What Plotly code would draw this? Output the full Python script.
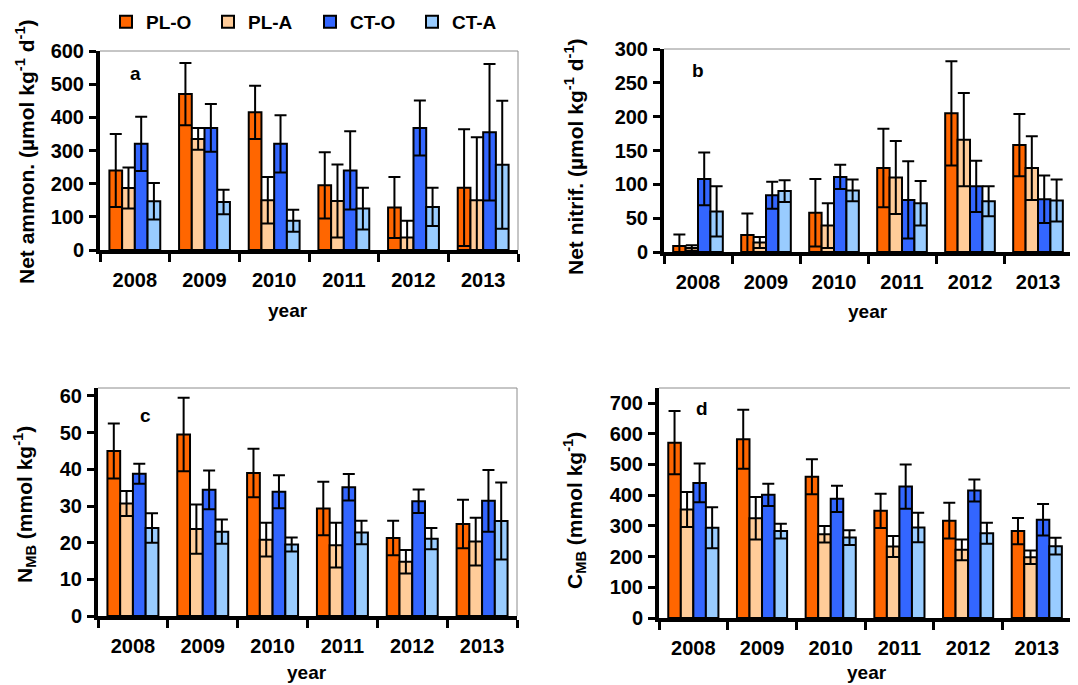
import plotly.graph_objects as go

# page offset of the plot div (default body margin) -> figure is drawn 8px in
OFF = 8
W, H = 1078 - OFF, 685 - OFF

years = ["2008", "2009", "2010", "2011", "2012", "2013"]
series = ["PL-O", "PL-A", "CT-O", "CT-A"]
colors = ["#FF6600", "#FFCC99", "#3366FF", "#99CCFF"]

# Panel a: Net ammonification
a_plo = [240, 470, 415, 195, 128, 188]
a_plo_err = [110, 94, 80, 100, 92, 176]
a_pla = [187, 335, 150, 148, 38, 150]
a_pla_err = [62, 33, 70, 110, 50, 190]
a_cto = [320, 368, 320, 240, 368, 355]
a_cto_err = [82, 72, 86, 118, 83, 206]
a_cta = [147, 145, 88, 125, 130, 257]
a_cta_err = [55, 37, 33, 63, 58, 193]

# Panel b: Net nitrification
b_plo = [9, 25, 58, 124, 205, 158]
b_plo_err = [17, 32, 50, 58, 77, 46]
b_pla = [6, 14, 39, 110, 166, 124]
b_pla_err = [4, 8, 33, 54, 69, 47]
b_cto = [108, 84, 111, 77, 97, 78]
b_cto_err = [39, 20, 18, 57, 38, 35]
b_cta = [60, 90, 91, 72, 75, 76]
b_cta_err = [37, 16, 16, 33, 22, 31]

# Panel c: N_MB
c_plo = [45, 49.5, 39, 29.3, 21.3, 25.1]
c_plo_err = [7.5, 10, 6.6, 7.3, 4.7, 6.6]
c_pla = [30.7, 23.7, 20.8, 19.3, 14.8, 20.3]
c_pla_err = [3.4, 6.7, 4.6, 6.1, 3.2, 6.5]
c_cto = [38.8, 34.4, 33.9, 35.1, 31.3, 31.4]
c_cto_err = [2.7, 5.3, 4.5, 3.6, 3.2, 8.4]
c_cta = [24, 23, 19.5, 22.8, 21.1, 25.9]
c_cta_err = [4, 3.3, 1.9, 3.2, 2.9, 10.5]

# Panel d: C_MB
d_plo = [571, 582, 460, 349, 317, 283]
d_plo_err = [103, 96, 57, 56, 58, 43]
d_pla = [353, 325, 273, 233, 222, 198]
d_pla_err = [57, 69, 27, 34, 34, 22]
d_cto = [440, 401, 388, 428, 415, 320]
d_cto_err = [63, 36, 43, 72, 36, 51]
d_cta = [294, 283, 262, 295, 276, 234]
d_cta_err = [67, 24, 24, 48, 34, 27]

panels = [
    ("x", "y", [a_plo, a_pla, a_cto, a_cta], [a_plo_err, a_pla_err, a_cto_err, a_cta_err], True),
    ("x2", "y2", [b_plo, b_pla, b_cto, b_cta], [b_plo_err, b_pla_err, b_cto_err, b_cta_err], False),
    ("x3", "y3", [c_plo, c_pla, c_cto, c_cta], [c_plo_err, c_pla_err, c_cto_err, c_cta_err], False),
    ("x4", "y4", [d_plo, d_pla, d_cto, d_cta], [d_plo_err, d_pla_err, d_cto_err, d_cta_err], False),
]

FONT = "Arial, Liberation Sans, sans-serif"

fig = go.Figure()
for xa, ya, vals, errs, show in panels:
    for name, col, v, e in zip(series, colors, vals, errs):
        fig.add_trace(go.Bar(
            x=years, y=v, name=name, xaxis=xa, yaxis=ya,
            marker=dict(color=col, line=dict(color="black", width=2)),
            error_y=dict(type="data", array=e, visible=True, color="black",
                         thickness=2, width=6),
            showlegend=show, offsetgroup=name, legendgroup=name,
        ))

def px_x(p):
    # page pixel -> paper fraction
    return (p - OFF) / W

def px_y(p):
    return 1 - (p - OFF) / H

tickfont = dict(family=FONT, size=20, color="black", weight="bold")

def xaxis(domain, rng, anchor):
    return dict(domain=domain, range=rng, anchor=anchor, type="category",
                tickson="boundaries", ticks="outside", ticklen=8, tickwidth=3,
                tickcolor="black", showline=True, linewidth=4, linecolor="black",
                showgrid=False, zeroline=False, tickfont=tickfont,
                ticklabelstandoff=9, automargin=False)

def yaxis(domain, rng, dtick, anchor):
    return dict(domain=domain, range=rng, anchor=anchor, dtick=dtick,
                ticks="outside", ticklen=7, tickwidth=3, tickcolor="black",
                showline=True, linewidth=4, linecolor="black",
                showgrid=False, zeroline=False, tickfont=tickfont,
                ticklabelstandoff=1, automargin=False)

layout = dict(
    width=W, height=H, margin=dict(l=0, r=0, t=0, b=0, pad=0, autoexpand=False),
    paper_bgcolor="white", plot_bgcolor="white",
    barmode="group", bargap=0.27, bargroupgap=0,
    font=dict(family=FONT, color="black"),
    xaxis=xaxis([px_x(100), px_x(518)], [-0.5, 5.5], "y"),
    yaxis=yaxis([px_y(250), px_y(51)], [0, 600], 100, "x"),
    xaxis2=xaxis([px_x(664), 1.0], [-0.5, 5.588], "y2"),
    yaxis2=yaxis([px_y(252), px_y(49)], [0, 300], 50, "x2"),
    xaxis3=xaxis([px_x(98), px_x(517)], [-0.5, 5.5], "y3"),
    yaxis3=yaxis([px_y(616), px_y(388)], [0, 62.18], 10, "x3"),
    xaxis4=xaxis([px_x(659), 1.0], [-0.5, 5.60], "y4"),
    yaxis4=yaxis([px_y(618), px_y(388)], [0, 749], 100, "x4"),
    legend=dict(orientation="h", x=px_x(106), xanchor="left",
                y=px_y(22), yanchor="middle", entrywidth=57,
                entrywidthmode="pixels", traceorder="normal",
                font=dict(family=FONT, size=19, color="black", weight="bold"),
                bgcolor="rgba(0,0,0,0)", borderwidth=0, itemclick=False),
)
fig.update_layout(**layout)

# thin gray frame lines (top / right) like the original
gray = dict(color="#8c8c8c", width=1)
shapes = []
for xr, yr, right in [("x", "y", True), ("x2", "y2", False), ("x3", "y3", True), ("x4", "y4", False)]:
    shapes.append(dict(type="line", xref=f"{xr} domain", yref=f"{yr} domain",
                       x0=0, x1=1, y0=1, y1=1, line=gray))
    if right:
        shapes.append(dict(type="line", xref=f"{xr} domain", yref=f"{yr} domain",
                           x0=1, x1=1, y0=0, y1=1, line=gray))
fig.update_layout(shapes=shapes)

ann = []
def add_text(text, x, y, angle=0, size=19):
    ann.append(dict(text=text, x=px_x(x), y=px_y(y), xref="paper", yref="paper",
                    xanchor="center", yanchor="middle", showarrow=False,
                    textangle=angle,
                    font=dict(family=FONT, size=size, color="black", weight="bold")))

add_text("year", 288, 310)
add_text("year", 868, 311)
add_text("year", 307, 672)
add_text("year", 867, 672)
add_text("a", 135, 73)
add_text("b", 698, 71)
add_text("c", 145, 415)
add_text("d", 702, 408)
add_text("Net ammon. (µmol kg<sup>-1</sup> d<sup>-1</sup>)", 25, 152, -90, 21)
add_text("Net nitrif. (µmol kg<sup>-1</sup> d<sup>-1</sup>)", 574, 157, -90, 21)
add_text("N<sub>MB</sub> (mmol kg<sup>-1</sup>)", 24, 505, -90, 21)
add_text("C<sub>MB</sub> (mmol kg<sup>-1</sup>)", 574, 511, -90, 21)
fig.update_layout(annotations=ann)

fig.write_html("out.html")
